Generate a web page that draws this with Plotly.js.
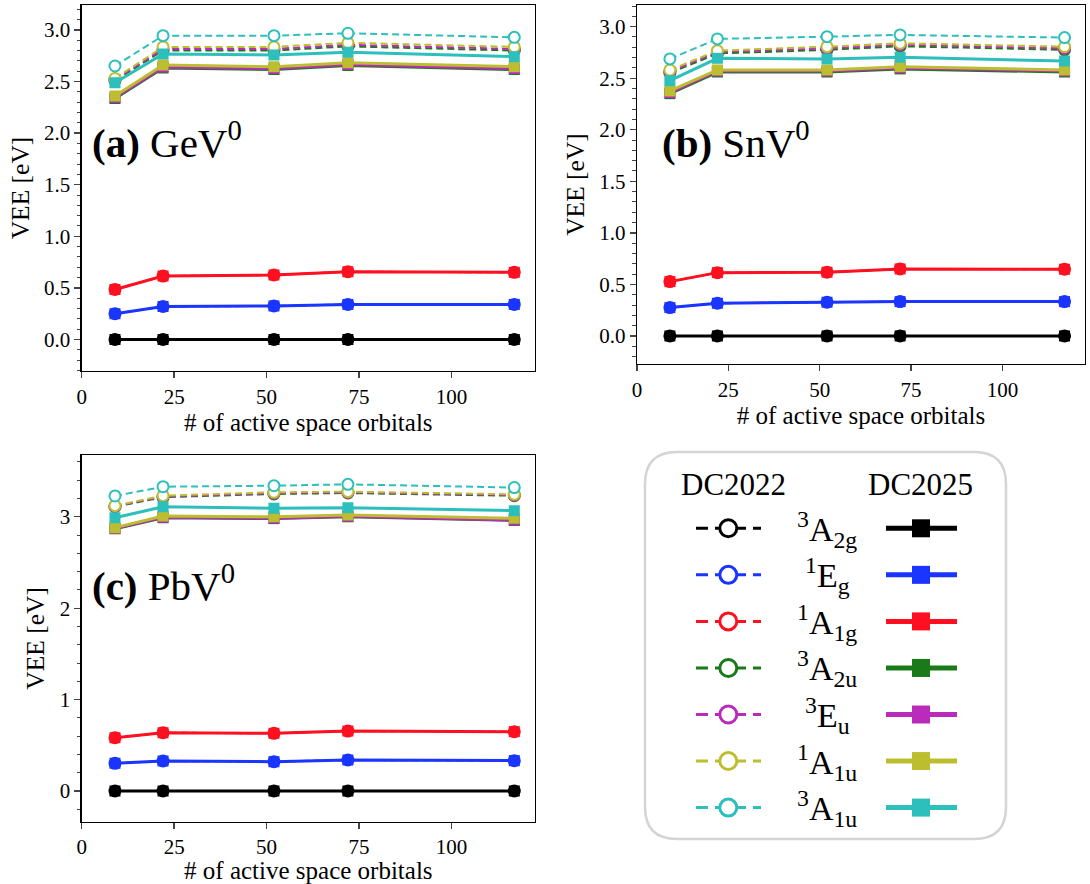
<!DOCTYPE html>
<html>
<head>
<meta charset="utf-8">
<script src="https://cdn.plot.ly/plotly-3.0.1.min.js"></script>
<style>
html,body{margin:0;padding:0;background:#fff;}
#chart{width:1090px;height:884px;}
</style>
</head>
<body>
<div id="chart"></div>
<script>
// ---------------- data ----------------
const orbitals = [9, 22, 52, 72, 117];
const stateKeys = ['3A2g', '1Eg', '1A1g', '3A2u', '3Eu', '1A1u', '3A1u'];
const stateLabels = ['<sup>3</sup>A<sub>2g</sub>', '<sup>1</sup>E<sub>g</sub>', '<sup>1</sup>A<sub>1g</sub>',
  '<sup>3</sup>A<sub>2u</sub>', '<sup>3</sup>E<sub>u</sub>', '<sup>1</sup>A<sub>1u</sub>', '<sup>3</sup>A<sub>1u</sub>'];
const stateColors = ['#000000', '#1a35ff', '#ff1020', '#1a7a1a', '#bb2bbb', '#bdbd30', '#2cbfbb'];
const panelTitles = ['<b>(a)</b> GeV<sup>0</sup>', '<b>(b)</b> SnV<sup>0</sup>', '<b>(c)</b> PbV<sup>0</sup>'];
const xTickVals = [0, 25, 50, 75, 100];

// GeV0
const gev2025_3A2g = [0, 0, 0, 0, 0];
const gev2025_1Eg  = [0.25, 0.32, 0.325, 0.34, 0.34];
const gev2025_1A1g = [0.485, 0.615, 0.625, 0.657, 0.651];
const gev2025_3A2u = [2.335, 2.63, 2.615, 2.655, 2.615];
const gev2025_3Eu  = [2.345, 2.64, 2.625, 2.665, 2.625];
const gev2025_1A1u = [2.36, 2.66, 2.643, 2.682, 2.643];
const gev2025_3A1u = [2.488, 2.766, 2.757, 2.783, 2.74];
const gev2022_3A2g = [0, 0, 0, 0, 0];
const gev2022_1Eg  = [0.25, 0.32, 0.325, 0.34, 0.34];
const gev2022_1A1g = [0.485, 0.615, 0.625, 0.657, 0.651];
const gev2022_3A2u = [2.51, 2.80, 2.80, 2.84, 2.80];
const gev2022_3Eu  = [2.52, 2.815, 2.815, 2.855, 2.815];
const gev2022_1A1u = [2.53, 2.835, 2.835, 2.875, 2.835];
const gev2022_3A1u = [2.65, 2.944, 2.944, 2.967, 2.928];

// SnV0
const snv2025_3A2g = [0, 0, 0, 0, 0];
const snv2025_1Eg  = [0.275, 0.317, 0.327, 0.333, 0.333];
const snv2025_1A1g = [0.527, 0.614, 0.618, 0.65, 0.647];
const snv2025_3A2u = [2.35, 2.56, 2.56, 2.59, 2.56];
const snv2025_3Eu  = [2.36, 2.57, 2.57, 2.60, 2.57];
const snv2025_1A1u = [2.376, 2.58, 2.58, 2.612, 2.58];
const snv2025_3A1u = [2.476, 2.693, 2.687, 2.703, 2.667];
const snv2022_3A2g = [0, 0, 0, 0, 0];
const snv2022_1Eg  = [0.275, 0.317, 0.327, 0.333, 0.333];
const snv2022_1A1g = [0.527, 0.614, 0.618, 0.65, 0.647];
const snv2022_3A2u = [2.55, 2.74, 2.775, 2.81, 2.775];
const snv2022_3Eu  = [2.565, 2.755, 2.79, 2.825, 2.79];
const snv2022_1A1u = [2.58, 2.767, 2.806, 2.839, 2.806];
const snv2022_3A1u = [2.687, 2.881, 2.903, 2.92, 2.894];

// PbV0
const pbv2025_3A2g = [0, 0, 0, 0, 0];
const pbv2025_1Eg  = [0.303, 0.328, 0.321, 0.339, 0.332];
const pbv2025_1A1g = [0.583, 0.638, 0.631, 0.656, 0.649];
const pbv2025_3A2u = [2.87, 2.99, 2.98, 3.0, 2.96];
const pbv2025_3Eu  = [2.875, 2.995, 2.985, 3.005, 2.965];
const pbv2025_1A1u = [2.881, 3.009, 3.0, 3.02, 2.984];
const pbv2025_3A1u = [2.99, 3.11, 3.093, 3.1, 3.067];
const pbv2022_3A2g = [0, 0, 0, 0, 0];
const pbv2022_1Eg  = [0.303, 0.328, 0.321, 0.339, 0.332];
const pbv2022_1A1g = [0.583, 0.638, 0.631, 0.656, 0.649];
const pbv2022_3A2u = [3.11, 3.215, 3.25, 3.26, 3.23];
const pbv2022_3Eu  = [3.115, 3.222, 3.258, 3.267, 3.238];
const pbv2022_1A1u = [3.122, 3.231, 3.268, 3.275, 3.246];
const pbv2022_3A1u = [3.228, 3.329, 3.34, 3.355, 3.32];

// ---------------- build ----------------
const W = 1090, H = 884;
const X = p => p / W;
const Y = p => 1 - p / H;

const panels = [
  {dc2022: [gev2022_3A2g, gev2022_1Eg, gev2022_1A1g, gev2022_3A2u, gev2022_3Eu, gev2022_1A1u, gev2022_3A1u],
   dc2025: [gev2025_3A2g, gev2025_1Eg, gev2025_1A1g, gev2025_3A2u, gev2025_3Eu, gev2025_1A1u, gev2025_3A1u],
   xa: 'x', ya: 'y'},
  {dc2022: [snv2022_3A2g, snv2022_1Eg, snv2022_1A1g, snv2022_3A2u, snv2022_3Eu, snv2022_1A1u, snv2022_3A1u],
   dc2025: [snv2025_3A2g, snv2025_1Eg, snv2025_1A1g, snv2025_3A2u, snv2025_3Eu, snv2025_1A1u, snv2025_3A1u],
   xa: 'x2', ya: 'y2'},
  {dc2022: [pbv2022_3A2g, pbv2022_1Eg, pbv2022_1A1g, pbv2022_3A2u, pbv2022_3Eu, pbv2022_1A1u, pbv2022_3A1u],
   dc2025: [pbv2025_3A2g, pbv2025_1Eg, pbv2025_1A1g, pbv2025_3A2u, pbv2025_3Eu, pbv2025_1A1u, pbv2025_3A1u],
   xa: 'x3', ya: 'y3'}
];

const traces = [];
panels.forEach(p => {
  stateKeys.forEach((k, i) => {
    traces.push({
      x: orbitals, y: p.dc2022[i], xaxis: p.xa, yaxis: p.ya, type: 'scatter', mode: 'lines+markers',
      name: 'DC2022 ' + k, showlegend: false, hoverinfo: 'x+y',
      line: {color: stateColors[i], width: 2, dash: '7px,4px'},
      marker: {symbol: 'circle', size: 11, color: '#ffffff', line: {color: stateColors[i], width: 2}}
    });
  });
  stateKeys.forEach((k, i) => {
    traces.push({
      x: orbitals, y: p.dc2025[i], xaxis: p.xa, yaxis: p.ya, type: 'scatter', mode: 'lines+markers',
      name: 'DC2025 ' + k, showlegend: false, hoverinfo: 'x+y',
      line: {color: stateColors[i], width: 3},
      marker: {symbol: 'square', size: 11, color: stateColors[i], line: {width: 0}}
    });
  });
});

const FONT = 'Liberation Serif';
function xAxis(dom, anchor) {
  return {domain: dom, anchor: anchor, range: [0, 122.6], tickvals: xTickVals, ticks: 'outside', ticklen: 6, tickwidth: 1.3,
    showline: true, linecolor: '#000', linewidth: 1.3, mirror: true, showgrid: false, zeroline: false,
    tickfont: {family: FONT, size: 21, color: '#000'},
    title: {text: '# of active space orbitals', font: {family: FONT, size: 25, color: '#000'}, standoff: 6}};
}
function yAxis(dom, anchor, range, dtick, minorDtick, fmt) {
  return {domain: dom, anchor: anchor, range: range, dtick: dtick, tick0: 0, tickformat: fmt, ticks: 'outside', ticklen: 6, tickwidth: 1.3,
    minor: {ticks: 'outside', ticklen: 3.5, tickwidth: 1, dtick: minorDtick, tick0: 0, showgrid: false},
    showline: true, linecolor: '#000', linewidth: 1.3, mirror: true, showgrid: false, zeroline: false,
    tickfont: {family: FONT, size: 21, color: '#000'},
    title: {text: 'VEE [eV]', font: {family: FONT, size: 25.5, color: '#000'}, standoff: 7}};
}

const layout = {
  width: W, height: H, margin: {l: 0, r: 0, t: 0, b: 0}, paper_bgcolor: '#fff', plot_bgcolor: '#fff',
  showlegend: false, font: {family: FONT, color: '#000', size: 21},
  xaxis: xAxis([X(81.7), X(535)], 'y'),
  yaxis: yAxis([Y(371), Y(5)], 'x', [-0.305, 3.241], 0.5, 0.1, '.1f'),
  xaxis2: xAxis([X(637), X(1085)], 'y2'),
  yaxis2: yAxis([Y(364), Y(5)], 'x2', [-0.272, 3.21], 0.5, 0.1, '.1f'),
  xaxis3: xAxis([X(81.7), X(535)], 'y3'),
  yaxis3: yAxis([Y(821.7), Y(455)], 'x3', [-0.336, 3.676], 1, 0.2, 'd'),
  annotations: [], shapes: []
};

// panel titles
[[90, 140], [660, 140], [90, 583]].forEach((pos, i) => {
  layout.annotations.push({xref: 'paper', yref: 'paper', x: X(pos[0]), y: Y(pos[1]), xanchor: 'left', yanchor: 'middle',
    text: panelTitles[i], showarrow: false, font: {family: FONT, size: 41, color: '#000'}});
});

// legend box (rounded rectangle)
const bx0 = 645, bx1 = 1006, by0 = 452, by1 = 839, rr = 32;
const path = `M ${X(bx0 + rr)} ${Y(by0)} L ${X(bx1 - rr)} ${Y(by0)} Q ${X(bx1)} ${Y(by0)} ${X(bx1)} ${Y(by0 + rr)} ` +
  `L ${X(bx1)} ${Y(by1 - rr)} Q ${X(bx1)} ${Y(by1)} ${X(bx1 - rr)} ${Y(by1)} L ${X(bx0 + rr)} ${Y(by1)} ` +
  `Q ${X(bx0)} ${Y(by1)} ${X(bx0)} ${Y(by1 - rr)} L ${X(bx0)} ${Y(by0 + rr)} Q ${X(bx0)} ${Y(by0)} ${X(bx0 + rr)} ${Y(by0)} Z`;
layout.shapes.push({type: 'path', xref: 'paper', yref: 'paper', path: path, line: {color: '#d4d4d4', width: 2.5}, fillcolor: 'rgba(255,255,255,0.8)', layer: 'above'});

layout.annotations.push({xref: 'paper', yref: 'paper', x: X(733), y: Y(484), text: 'DC2022', showarrow: false,
  xanchor: 'center', yanchor: 'middle', font: {family: FONT, size: 31, color: '#000'}});
layout.annotations.push({xref: 'paper', yref: 'paper', x: X(920), y: Y(484), text: 'DC2025', showarrow: false,
  xanchor: 'center', yanchor: 'middle', font: {family: FONT, size: 31, color: '#000'}});

stateKeys.forEach((k, i) => {
  const cy = 528.3 + i * 46.55;
  const c = stateColors[i];
  layout.shapes.push({type: 'line', xref: 'paper', yref: 'paper', x0: X(696), x1: X(761), y0: Y(cy), y1: Y(cy),
    line: {color: c, width: 3, dash: '12px,7px'}, layer: 'above'});
  layout.shapes.push({type: 'circle', xref: 'paper', yref: 'paper', x0: X(728.3 - 8.5), x1: X(728.3 + 8.5), y0: Y(cy - 8.5), y1: Y(cy + 8.5),
    line: {color: c, width: 3}, fillcolor: '#ffffff', layer: 'above'});
  layout.shapes.push({type: 'line', xref: 'paper', yref: 'paper', x0: X(886), x1: X(957), y0: Y(cy), y1: Y(cy),
    line: {color: c, width: 5}, layer: 'above'});
  layout.shapes.push({type: 'rect', xref: 'paper', yref: 'paper', x0: X(912), x1: X(930), y0: Y(cy - 9), y1: Y(cy + 9),
    line: {width: 0}, fillcolor: c, layer: 'above'});
  layout.annotations.push({xref: 'paper', yref: 'paper', x: X(827), y: Y(cy + 1), text: stateLabels[i], showarrow: false,
    xanchor: 'center', yanchor: 'middle', font: {family: FONT, size: 34, color: '#000'}});
});

Plotly.newPlot('chart', traces, layout, {displayModeBar: false, staticPlot: true});
</script>
</body>
</html>
